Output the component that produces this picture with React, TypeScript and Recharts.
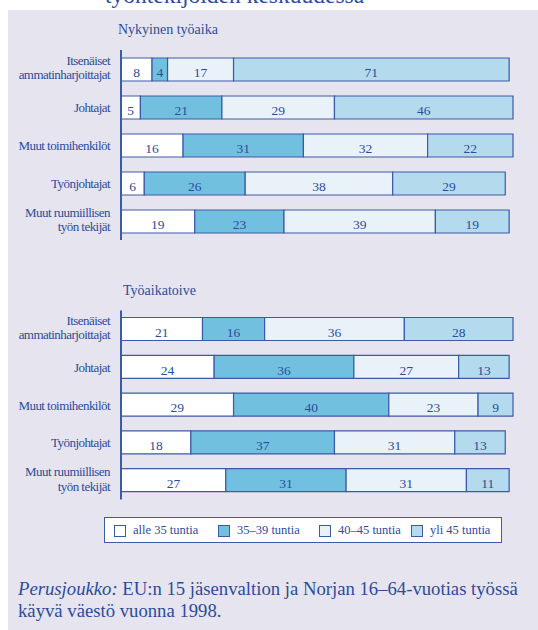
import { BarChart, Bar, XAxis, YAxis, LabelList } from "recharts";

const categories = [
  "Itsenäiset ammatinharjoittajat",
  "Johtajat",
  "Muut toimihenkilöt",
  "Työnjohtajat",
  "Muut ruumiillisen työn tekijät",
];
const tickLines: Record<string, string[]> = {
  "Itsenäiset ammatinharjoittajat": ["Itsenäiset", "ammatinharjoittajat"],
  "Muut ruumiillisen työn tekijät": ["Muut ruumiillisen", "työn tekijät"],
};

const seriesNames = ["alle 35 tuntia", "35–39 tuntia", "40–45 tuntia", "yli 45 tuntia"];

// Nykyinen työaika
const nowUnder35 = [8, 5, 16, 6, 19];
const now35to39 = [4, 21, 31, 26, 23];
const now40to45 = [17, 29, 32, 38, 39];
const nowOver45 = [71, 46, 22, 29, 19];

// Työaikatoive
const wishUnder35 = [21, 24, 29, 18, 27];
const wish35to39 = [16, 36, 40, 37, 31];
const wish40to45 = [36, 27, 23, 31, 31];
const wishOver45 = [28, 13, 9, 13, 11];

const BLUE = "#2c4c9c";
const STROKE = "#3d5aa8";
const BG = "#e6e4ee";
const FILLS = ["#ffffff", "#72c0df", "#eaf2f9", "#b3dbed"];
const FONT = "Liberation Serif";

const build = (a: number[], b: number[], c: number[], d: number[]) =>
  categories.map((name, i) => ({ name, s0: a[i], s1: b[i], s2: c[i], s3: d[i] }));

const nowData = build(nowUnder35, now35to39, now40to45, nowOver45);
const wishData = build(wishUnder35, wish35to39, wish40to45, wishOver45);

function CatTick(props: any) {
  const { x, y, payload } = props;
  const lines = tickLines[payload.value] || [payload.value];
  return (
    <text
      x={x - 3}
      y={y}
      textAnchor="end"
      fill={BLUE}
      fontSize={13}
      letterSpacing={-0.55}
      fontFamily={FONT}
    >
      {lines.map((l, i) => (
        <tspan key={i} x={x - 3} dy={i === 0 ? (lines.length === 1 ? 4.5 : -4.5) : 14.5}>
          {l}
        </tspan>
      ))}
    </text>
  );
}

function Panel({ data, top, mTop, mBottom }: { data: any[]; top: number; mTop: number; mBottom: number }) {
  return (
    <div style={{ position: "absolute", left: 0, top }}>
      <BarChart
        width={538}
        height={260}
        data={data}
        layout="vertical"
        barSize={23}
        margin={{ top: mTop, bottom: mBottom, left: 0, right: 25 }}
      >
        <XAxis type="number" domain={[0, 101]} hide />
        <YAxis
          type="category"
          dataKey="name"
          width={121}
          axisLine={{ stroke: STROKE, strokeWidth: 2 }}
          tickLine={false}
          tick={<CatTick />}
          interval={0}
        />
        {[0, 1, 2, 3].map((k) => (
          <Bar
            key={k}
            dataKey={`s${k}`}
            name={seriesNames[k]}
            stackId="a"
            fill={FILLS[k]}
            stroke={STROKE}
            strokeWidth={1.2}
            isAnimationActive={false}
          >
            <LabelList
              dataKey={`s${k}`}
              position="center"
              fill={BLUE}
              fontSize={13.5}
              fontFamily={FONT}
              dy={3}
            />
          </Bar>
        ))}
      </BarChart>
    </div>
  );
}

export default function App() {
  return (
    <div
      style={{
        position: "absolute",
        left: 0,
        top: 0,
        width: 538,
        height: 630,
        background: "#fff",
        overflow: "hidden",
        fontFamily: FONT,
        color: BLUE,
      }}
    >
      <div
        style={{
          position: "absolute",
          left: 105,
          top: -17,
          fontSize: 23.5,
          lineHeight: "24px",
          whiteSpace: "nowrap",
        }}
      >
        työntekijöiden keskuudessa
      </div>
      <div style={{ position: "absolute", left: 8, top: 10, right: 0, bottom: 0, background: BG }} />
      <div style={{ position: "absolute", left: 118, top: 22, fontSize: 14 }}>Nykyinen työaika</div>
      <div style={{ position: "absolute", left: 123, top: 283, fontSize: 14 }}>Työaikatoive</div>
      <Panel data={nowData} top={0} mTop={50} mBottom={20} />
      <Panel data={wishData} top={260} mTop={50.5} mBottom={20.5} />
      <div
        style={{
          position: "absolute",
          left: 104,
          top: 517,
          width: 396,
          height: 24,
          background: "#fff",
          border: `1.5px solid ${STROKE}`,
          fontSize: 12.5,
        }}
      >
        {seriesNames.map((n, i) => (
          <div
            key={n}
            style={{
              position: "absolute",
              left: [9, 113, 214, 306][i],
              top: 5,
              display: "flex",
              alignItems: "center",
              whiteSpace: "nowrap",
            }}
          >
            <span
              style={{
                display: "inline-block",
                width: 10,
                height: 10,
                background: FILLS[i],
                border: `1.5px solid ${STROKE}`,
                marginRight: 7,
              }}
            />
            {n}
          </div>
        ))}
      </div>
      <div
        style={{
          position: "absolute",
          left: 18,
          top: 578,
          fontSize: 18.7,
          lineHeight: "22px",
          width: 530,
          whiteSpace: "nowrap",
        }}
      >
        <i>Perusjoukko:</i> EU:n 15 jäsenvaltion ja Norjan 16–64-vuotias työssä
        <br />
        käyvä väestö vuonna 1998.
      </div>
    </div>
  );
}
